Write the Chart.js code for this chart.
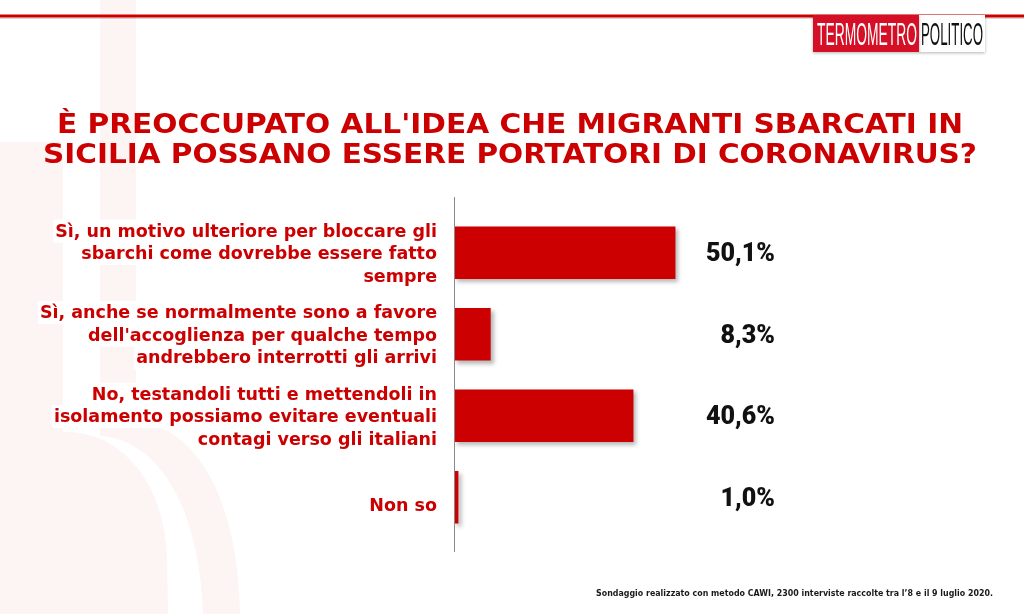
<!DOCTYPE html>
<html><head><meta charset="utf-8">
<script src="https://cdn.jsdelivr.net/npm/chart.js@4"></script>
<style>html,body{margin:0;padding:0;background:#fff;}canvas{display:block;}</style>
</head><body>
<canvas id="c" width="1024" height="614"></canvas>
<script>
const titleLines = ["È PREOCCUPATO ALL'IDEA CHE MIGRANTI SBARCATI IN", "SICILIA POSSANO ESSERE PORTATORI DI CORONAVIRUS?"];
const categories = [
  ["Sì, un motivo ulteriore per bloccare gli", "sbarchi come dovrebbe essere fatto", "sempre"],
  ["Sì, anche se normalmente sono a favore", "dell'accoglienza per qualche tempo", "andrebbero interrotti gli arrivi"],
  ["No, testandoli tutti e mettendoli in", "isolamento possiamo evitare eventuali", "contagi verso gli italiani"],
  ["Non so"]
];
const values = [50.1, 8.3, 40.6, 1.0];
const footnote = "Sondaggio realizzato con metodo CAWI, 2300 interviste raccolte tra l’8 e il 9 luglio 2020.";
const logoParts = ["TERMOMETRO", "POLITICO"];

const RED = '#cc0000';
const PALE = '#fdf4f4';

function scaledText(ctx, text, x, y, targetW, align) {
  const w = ctx.measureText(text).width;
  const s = targetW / w;
  let left = x;
  if (align === 'center') left = x - targetW / 2;
  else if (align === 'right') left = x - targetW;
  ctx.save();
  ctx.textAlign = 'left';
  ctx.translate(left, y);
  ctx.scale(s, 1);
  ctx.fillText(text, 0, 0);
  ctx.restore();
}
function fmt(v) { return v.toFixed(1).replace('.', ',') + '%'; }

const background = {
  id: 'background',
  beforeDraw(chart) {
    const ctx = chart.ctx;
    ctx.save();
    ctx.fillStyle = '#ffffff';
    ctx.fillRect(0, 0, 1024, 614);
    // faint watermark
    ctx.fillStyle = PALE;
    ctx.fillRect(100, 0, 36, 436);
    ctx.beginPath();
    ctx.moveTo(100, 420);
    ctx.lineTo(136, 420);
    ctx.bezierCurveTo(195, 428, 238, 495, 240, 614);
    ctx.lineTo(203, 614);
    ctx.bezierCurveTo(200, 510, 160, 440, 100, 436);
    ctx.closePath();
    ctx.fill();
    ctx.beginPath();
    ctx.moveTo(0, 142);
    ctx.lineTo(63, 142);
    ctx.lineTo(63, 432);
    ctx.lineTo(67, 432);
    ctx.bezierCurveTo(125, 432, 167, 490, 167, 560);
    ctx.lineTo(168, 614);
    ctx.lineTo(0, 614);
    ctx.closePath();
    ctx.fill();

    // top rule
    ctx.fillStyle = 'rgba(0,0,0,0.15)';
    ctx.fillRect(0, 17.5, 1024, 1.5);
    ctx.fillStyle = RED;
    ctx.fillRect(0, 14.5, 1024, 3);

    // logo
    ctx.save();
    ctx.shadowColor = 'rgba(0,0,0,0.3)';
    ctx.shadowBlur = 3;
    ctx.shadowOffsetY = 1;
    ctx.fillStyle = '#ffffff';
    ctx.fillRect(919, 15, 66, 37);
    ctx.fillStyle = '#d50f25';
    ctx.fillRect(813, 15, 106, 37);
    ctx.restore();
    ctx.font = "32px 'Liberation Sans Narrow', 'Liberation Sans', sans-serif";
    ctx.textBaseline = 'alphabetic';
    ctx.fillStyle = '#ffffff';
    scaledText(ctx, logoParts[0], 817, 45, 100, 'left');
    ctx.fillStyle = '#111111';
    scaledText(ctx, logoParts[1], 921, 45, 62, 'left');

    // title
    ctx.fillStyle = RED;
    ctx.font = "bold 27px 'DejaVu Sans', sans-serif";
    scaledText(ctx, titleLines[0], 510, 133, 906, 'center');
    scaledText(ctx, titleLines[1], 510, 163, 934, 'center');
    ctx.restore();
  }
};

const barShadow = {
  id: 'barShadow',
  beforeDatasetsDraw(chart) {
    const ctx = chart.ctx;
    ctx.save();
    ctx.shadowColor = 'rgba(0,0,0,0.28)';
    ctx.shadowBlur = 4;
    ctx.shadowOffsetX = 3;
    ctx.shadowOffsetY = 3;
  },
  afterDatasetsDraw(chart) {
    chart.ctx.restore();
  }
};

const overlay = {
  id: 'overlay',
  afterDraw(chart) {
    const ctx = chart.ctx;
    const xs = chart.scales.x, ys = chart.scales.y;
    const x0 = xs.getPixelForValue(0);
    ctx.save();
    // axis line
    ctx.strokeStyle = '#8a8a8a';
    ctx.lineWidth = 1;
    ctx.beginPath();
    ctx.moveTo(Math.round(x0) + 0.5, 197);
    ctx.lineTo(Math.round(x0) + 0.5, 552);
    ctx.stroke();

    // category labels
    ctx.font = "bold 17.5px 'DejaVu Sans', sans-serif";
    ctx.textBaseline = 'alphabetic';
    const labelRight = 437, lh = 22.5;
    categories.forEach((lines, i) => {
      const cy = ys.getPixelForValue(i);
      const n = lines.length;
      const extra = n === 1 ? 7 : 0;
      lines.forEach((ln, j) => {
        const by = cy + 6.4 + extra + (j - (n - 1) / 2) * lh;
        const w = ctx.measureText(ln).width;
        ctx.fillStyle = '#ffffff';
        ctx.fillRect(labelRight - w - 2, by - 17, w + 4, 23);
        ctx.fillStyle = RED;
        ctx.textAlign = 'right';
        ctx.fillText(ln, labelRight, by);
      });
    });

    // value labels
    ctx.font = "900 26px Roboto, 'DejaVu Sans', sans-serif";
    ctx.fillStyle = '#111111';
    const sc = 69 / ctx.measureText(fmt(values[0])).width;
    values.forEach((v, i) => {
      const cy = ys.getPixelForValue(i);
      const t = fmt(v);
      const w = ctx.measureText(t).width * sc;
      scaledText(ctx, t, 775, cy + 8.6, w, 'right');
    });

    // footnote
    ctx.font = "bold 9.5px 'DejaVu Sans', sans-serif";
    ctx.fillStyle = '#1a1a1a';
    scaledText(ctx, footnote, 596, 595.5, 397, 'left');
    ctx.restore();
  }
};

new Chart(document.getElementById('c'), {
  type: 'bar',
  data: {
    labels: categories,
    datasets: [{
      data: values,
      backgroundColor: RED,
      borderWidth: 0,
      barPercentage: 0.645,
      categoryPercentage: 1
    }]
  },
  options: {
    indexAxis: 'y',
    responsive: false,
    animation: false,
    events: [],
    layout: { padding: { left: 454, right: 128, top: 212, bottom: 76 } },
    scales: {
      x: { display: false, min: 0, max: 100 },
      y: { display: false }
    },
    plugins: { legend: { display: false }, tooltip: { enabled: false } }
  },
  plugins: [background, barShadow, overlay]
});
</script>
</body></html>
